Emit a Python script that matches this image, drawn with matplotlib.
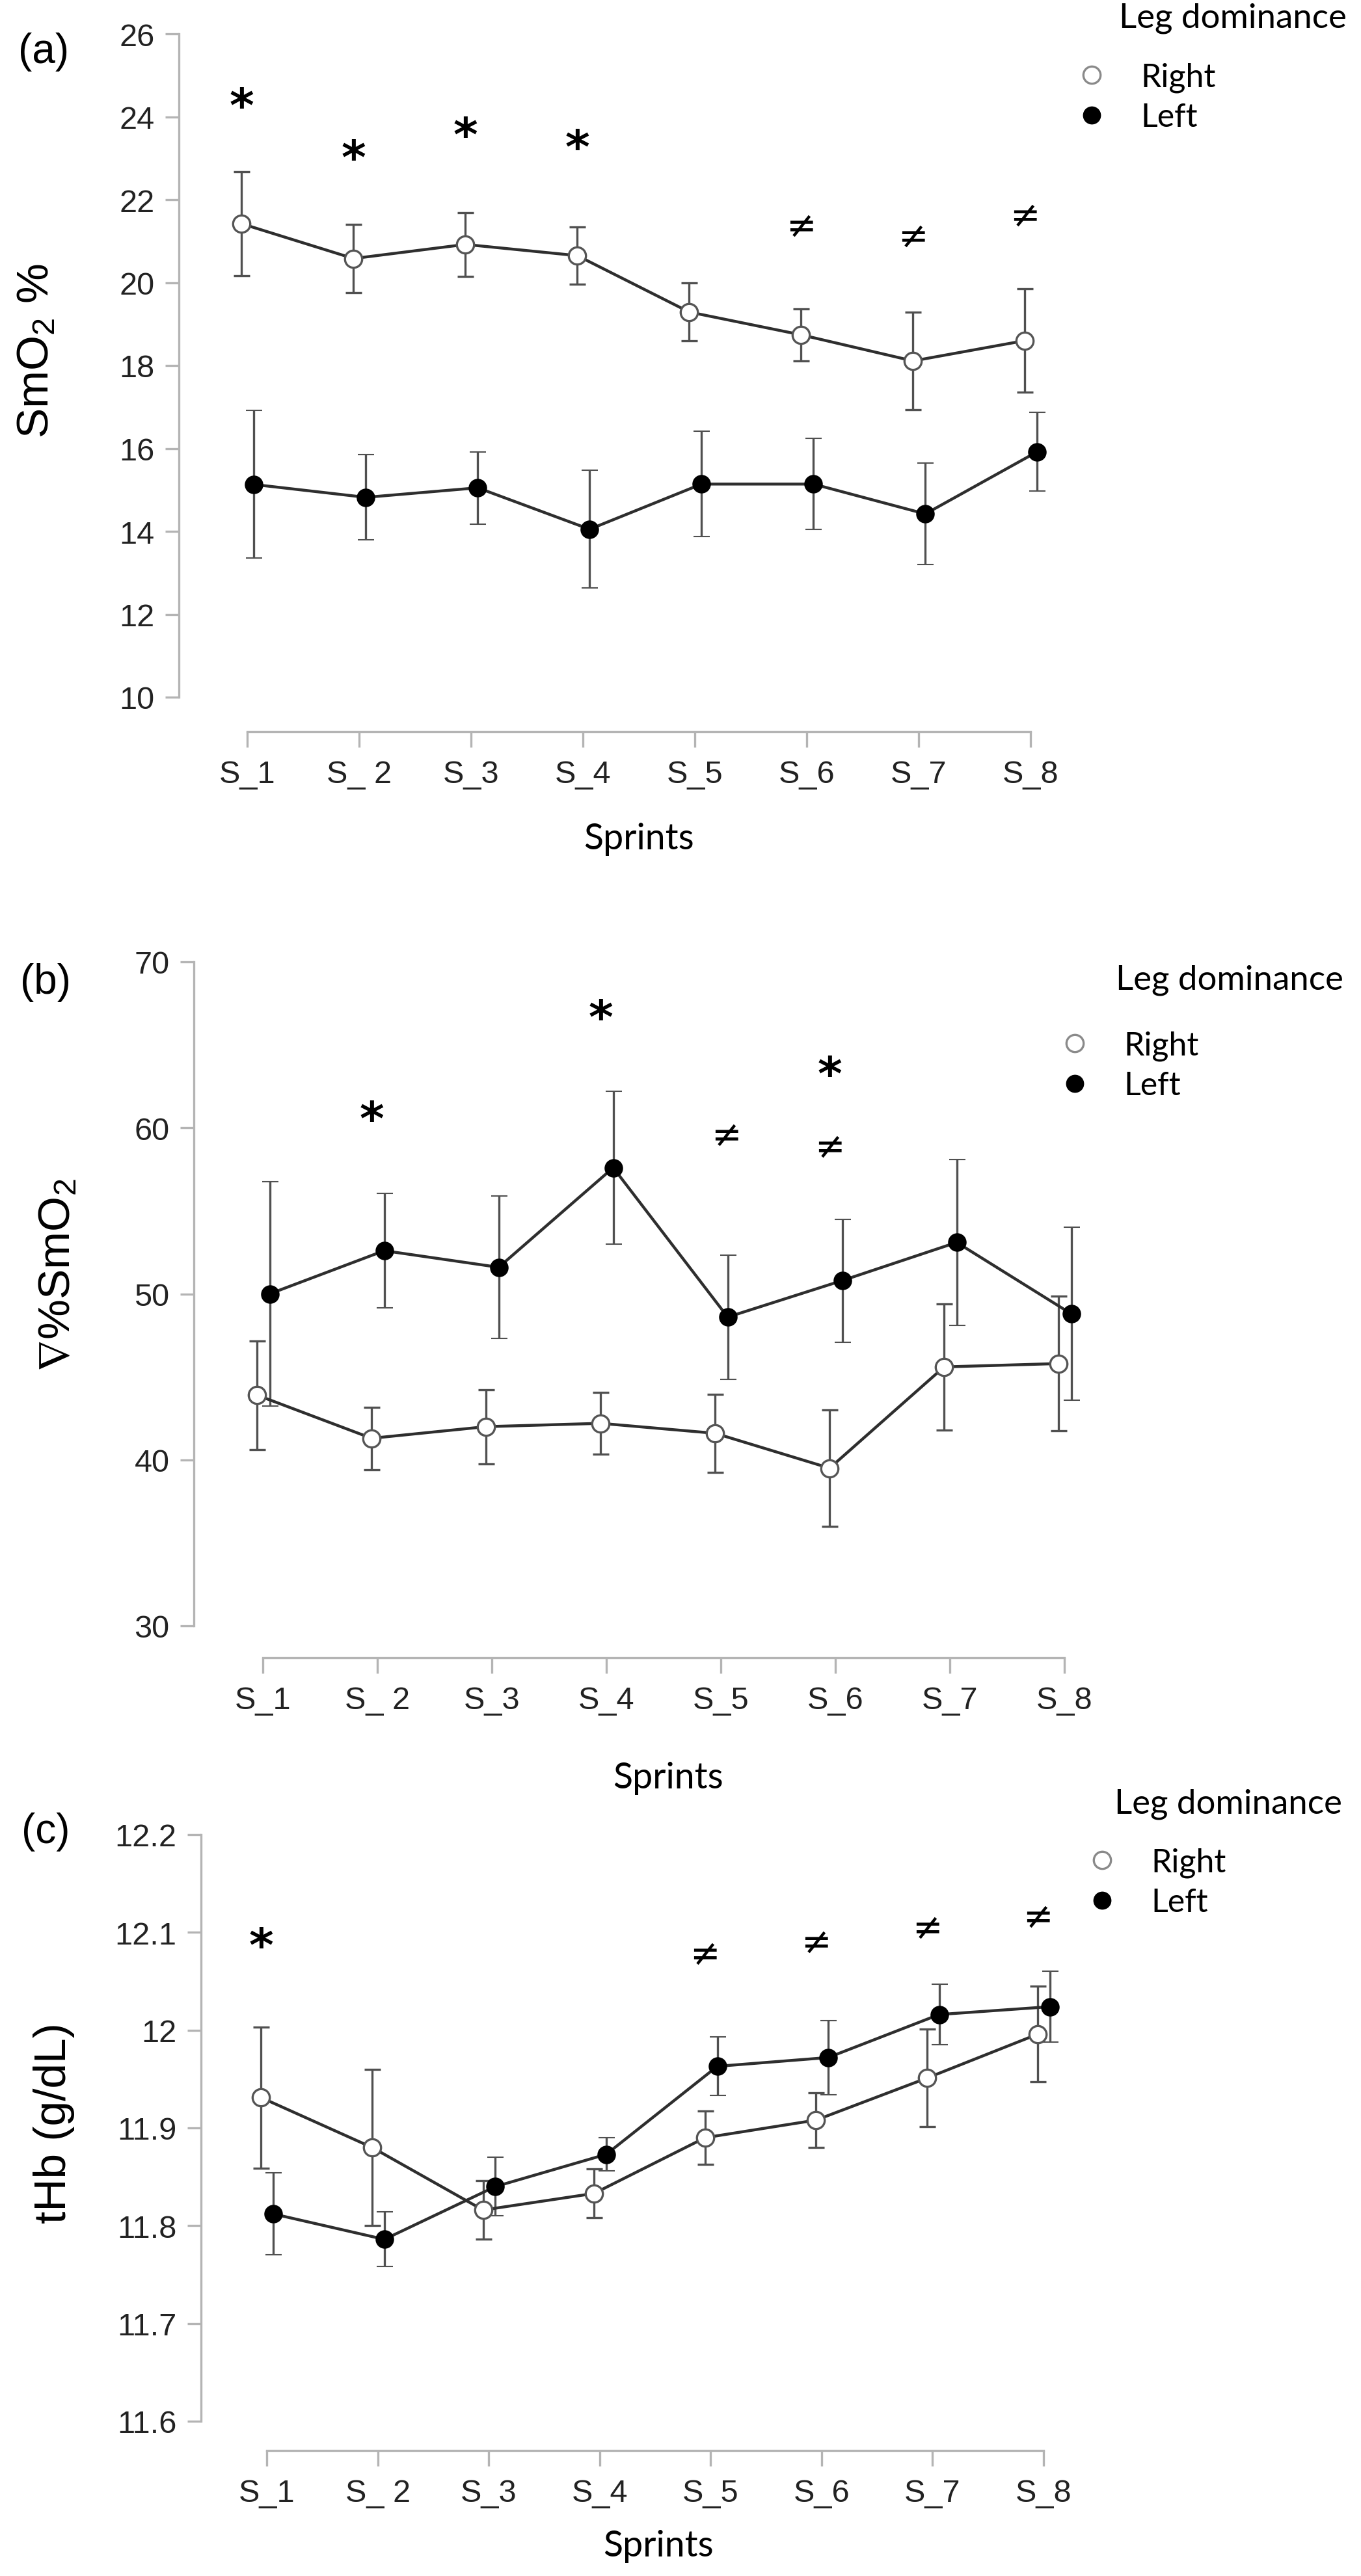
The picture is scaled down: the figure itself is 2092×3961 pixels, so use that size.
import matplotlib
matplotlib.use("Agg")
import matplotlib.pyplot as plt
from matplotlib.lines import Line2D
import numpy as np

# ---- data ----
sprints = ["S_1", "S_ 2", "S_3", "S_4", "S_5", "S_6", "S_7", "S_8"]

smo2_right = [21.42, 20.58, 20.92, 20.65, 19.29, 18.74, 18.11, 18.60]
smo2_right_err = [1.26, 0.83, 0.77, 0.69, 0.70, 0.63, 1.18, 1.25]
smo2_left = [15.13, 14.82, 15.05, 14.05, 15.14, 15.14, 14.42, 15.92]
smo2_left_err = [1.78, 1.03, 0.87, 1.42, 1.27, 1.10, 1.22, 0.95]

delta_right = [43.9, 41.3, 42.0, 42.2, 41.6, 39.5, 45.6, 45.8]
delta_right_err = [3.27, 1.88, 2.23, 1.85, 2.35, 3.50, 3.80, 4.05]
delta_left = [50.0, 52.6, 51.6, 57.6, 48.6, 50.8, 53.1, 48.8]
delta_left_err = [6.75, 3.44, 4.30, 4.60, 3.75, 3.70, 5.00, 5.20]

thb_right = [11.931, 11.880, 11.816, 11.833, 11.890, 11.908, 11.951, 11.996]
thb_right_err = [0.072, 0.080, 0.030, 0.025, 0.027, 0.028, 0.050, 0.049]
thb_left = [11.812, 11.786, 11.840, 11.873, 11.963, 11.972, 12.016, 12.024]
thb_left_err = [0.042, 0.028, 0.030, 0.017, 0.030, 0.038, 0.031, 0.036]

# significance marks: (sprint number, y, symbol)
marks_a = [(1, 24.2, "*"), (2, 22.95, "*"), (3, 23.5, "*"), (4, 23.2, "*"),
           (6, 21.35, "≠"), (7, 21.1, "≠"), (8, 21.6, "≠")]
marks_b = [(2, 60.4, "*"), (4, 66.5, "*"), (5.1, 59.5, "≠"), (6, 63.1, "*"), (6, 58.8, "≠")]
marks_c = [(1, 12.084, "*"), (5, 12.077, "≠"), (6, 12.089, "≠"), (7, 12.104, "≠"), (8, 12.115, "≠")]

W, H = 2092, 3962
fig = plt.figure(figsize=(W / 100, H / 100), dpi=100)
plt.rcParams["mathtext.default"] = "regular"

AX_GREY = "#b4b4b4"
LINE = "#2e2e2e"
ERR = "#505050"
SANS = ["Liberation Sans", "DejaVu Sans"]


def make_axes(left, top, right, bottom, t1, t8, yv_top, yv_ref, y_ref_px):
    # axes box given in image pixels, limits derived from tick pixel positions
    ax = fig.add_axes([left / W, 1 - bottom / H, (right - left) / W, (bottom - top) / H])
    dx = (t8 - t1) / 7
    ax.set_xlim(1 - (t1 - left) / dx, 8 + (right - t8) / dx)
    dy = (yv_top - yv_ref) / (y_ref_px - top)
    ax.set_ylim(yv_ref - (bottom - y_ref_px) * dy, yv_top)
    return ax


def panel(ax, right, right_err, left, left_err, yticks, yticklabels, ylabel,
          ylab_xy, xlab_xy, marks):
    x = np.arange(1, 9)
    ax.errorbar(x - 0.05, right, yerr=right_err, fmt="-o", color=LINE, lw=3.2,
                ecolor=ERR, elinewidth=2.4, capsize=9, capthick=2.4,
                ms=19, mfc="white", mec="#555555", mew=2.4, zorder=3)
    ax.errorbar(x + 0.06, left, yerr=left_err, fmt="-o", color=LINE, lw=3.2,
                ecolor=ERR, elinewidth=2.4, capsize=9, capthick=2.4,
                ms=19, mfc="black", mec="black", mew=1.5, zorder=3)
    for s, y, sym in marks:
        if sym == "*":
            ax.text(s - 0.05, y, sym, fontsize=52, family="DejaVu Sans",
                    fontweight="bold", ha="center", va="center")
        else:
            ax.text(s - 0.05, y, sym, fontsize=40, family="DejaVu Sans",
                    ha="center", va="center")
    for side in ("top", "right"):
        ax.spines[side].set_visible(False)
    for side in ("left", "bottom"):
        ax.spines[side].set_color(AX_GREY)
        ax.spines[side].set_linewidth(2.4)
    ax.spines["left"].set_bounds(yticks[0], yticks[-1])
    ax.spines["bottom"].set_bounds(1, 8)
    ax.set_xticks(x)
    ax.set_xticklabels(sprints, family=SANS, fontsize=35, color="#222222")
    ax.set_yticks(yticks)
    ax.set_yticklabels(yticklabels, family=SANS, fontsize=35, color="#222222")
    ax.tick_params(axis="x", length=17, width=2.4, color=AX_GREY, pad=14)
    ax.tick_params(axis="y", length=15, width=2.4, color=AX_GREY, pad=12)
    ax.set_xlabel("Sprints", fontsize=40, family=["Lato", "DejaVu Sans"])
    ax.xaxis.label.set_va("center")
    ax.xaxis.set_label_coords(*xlab_xy)
    ax.set_ylabel(ylabel, fontsize=50, family=SANS)
    ax.yaxis.label.set_va("center")
    ax.yaxis.set_label_coords(*ylab_xy)


def legend(ax, title_x, title_y, marker_x, rows_y):
    fig.text(title_x / W, 1 - title_y / H, "Leg dominance", fontsize=38,
             family=["Lato", "DejaVu Sans"], ha="left", va="center")
    handles = [Line2D([], [], ls="none", marker="o", ms=19, mfc="white",
                      mec="#8a8a8a", mew=2.4),
               Line2D([], [], ls="none", marker="o", ms=19, mfc="black", mec="black")]
    mid = (rows_y[0] + rows_y[1]) / 2
    ax.legend(handles, ["Right", "Left"], loc="center left",
              bbox_to_anchor=((marker_x - 24) / W, 1 - mid / H),
              bbox_transform=fig.transFigure, frameon=False, borderpad=0,
              borderaxespad=0, handlelength=1.0, handletextpad=1.0,
              labelspacing=0.3, prop={"family": ["Lato", "DejaVu Sans"], "size": 36})


# (a) SmO2
ax_a = make_axes(275, 53, 1640, 1126, 380, 1584, 26, 10, 1073)
panel(ax_a, smo2_right, smo2_right_err, smo2_left, smo2_left_err,
      [10, 12, 14, 16, 18, 20, 22, 24, 26], ["10", "12", "14", "16", "18", "20", "22", "24", "26"],
      "SmO$_2$ %", (-0.160, 0.546), (0.518, -0.153), marks_a)
legend(ax_a, 1720, 28, 1677, (118, 183))

# (b) delta SmO2
ax_b = make_axes(298, 1480, 1700, 2550, 404, 1636, 70, 30, 2501)
panel(ax_b, delta_right, delta_right_err, delta_left, delta_left_err,
      [30, 40, 50, 60, 70], ["30", "40", "50", "60", "70"],
      r"$\nabla$%SmO$_2$", (-0.149, 0.551), (0.52, -0.172), marks_b)
legend(ax_b, 1715, 1507, 1651, (1605, 1674))

# (c) tHb
ax_c = make_axes(309, 2822, 1660, 3769, 410, 1604, 12.2, 11.6, 3724)
panel(ax_c, thb_right, thb_right_err, thb_left, thb_left_err,
      [11.6, 11.7, 11.8, 11.9, 12.0, 12.1, 12.2],
      ["11.6", "11.7", "11.8", "11.9", "12", "12.1", "12.2"],
      "tHb (g/dL)", (-0.167, 0.533), (0.52, -0.155), marks_c)
legend(ax_c, 1713, 2774, 1693, (2861, 2930))

for label, (px, py) in zip(["(a)", "(b)", "(c)"], [(67, 80), (70, 1511), (70, 2817)]):
    fig.text(px / W, 1 - py / H, label, fontsize=46, family=SANS, ha="center", va="center")

fig.savefig("out.png", dpi=100, facecolor="white")
